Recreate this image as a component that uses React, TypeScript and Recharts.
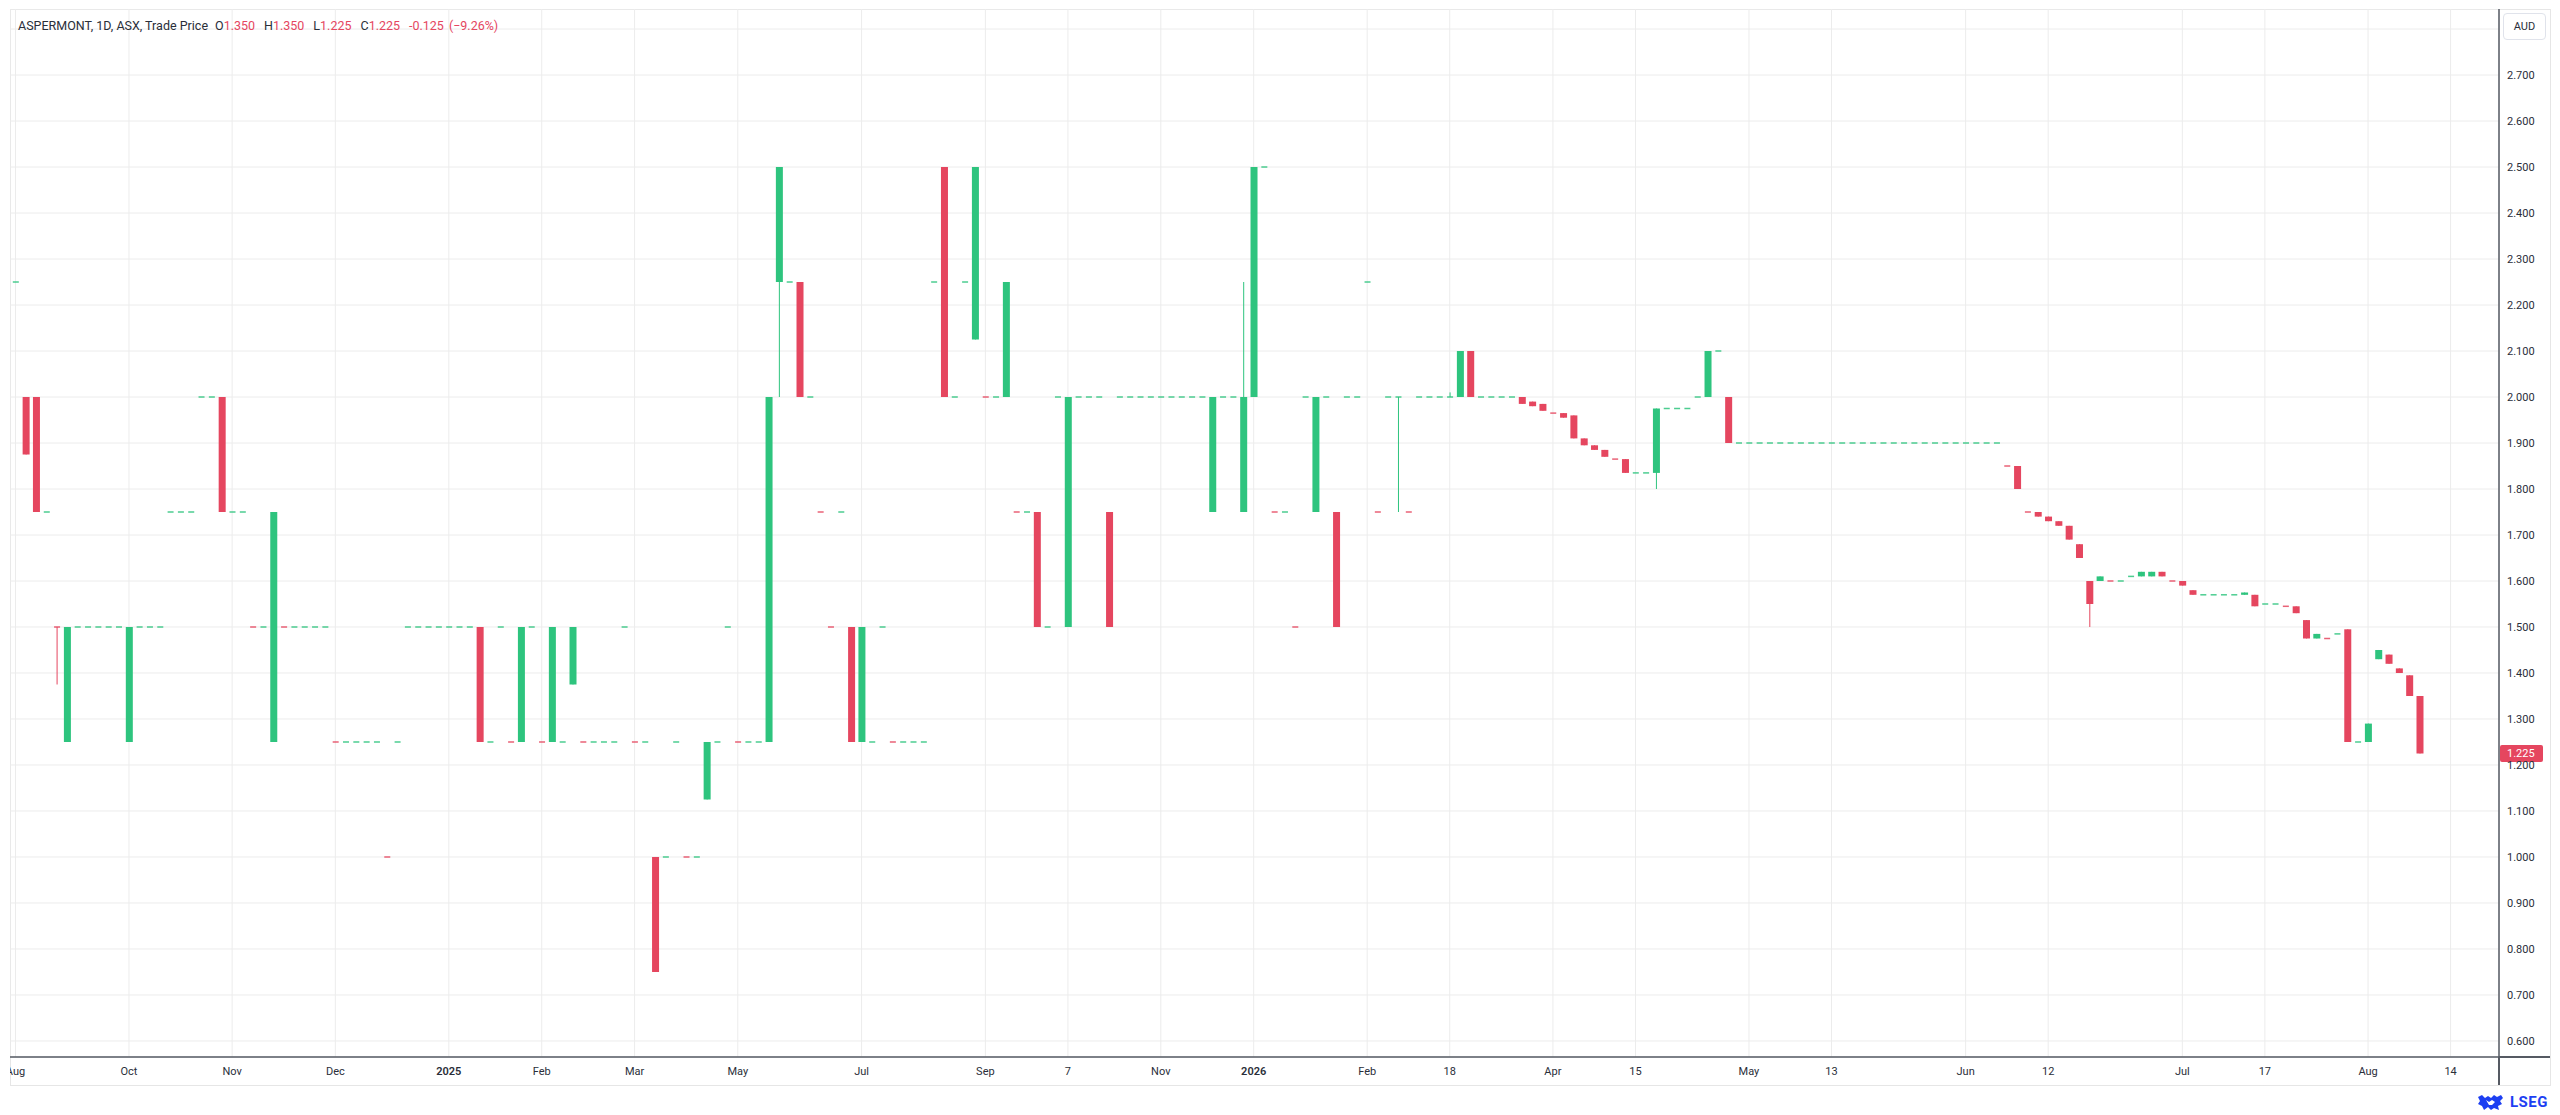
import React from 'react'
import { ComposedChart, Bar, XAxis, YAxis, CartesianGrid, ReferenceLine } from 'recharts'

// one entry per trading slot (index = slot on the time axis)
const opens = [
  2.25, 2.0, 2.0, 1.75, 1.5, 1.25, 1.5, 1.5, 1.5, 1.5, // 0
  1.5, 1.25, 1.5, 1.5, 1.5, 1.75, 1.75, 1.75, 2.0, 2.0, // 10
  2.0, 1.75, 1.75, 1.5, 1.5, 1.25, 1.5, 1.5, 1.5, 1.5, // 20
  1.5, 1.25, 1.25, 1.25, 1.25, 1.25, 1.0, 1.25, 1.5, 1.5, // 30
  1.5, 1.5, 1.5, 1.5, 1.5, 1.5, 1.25, 1.5, 1.25, 1.25, // 40
  1.5, 1.25, 1.25, 1.25, 1.375, 1.25, 1.25, 1.25, 1.25, 1.5, // 50
  1.25, 1.25, 1.0, 1.0, 1.25, 1.0, 1.0, 1.125, 1.25, 1.5, // 60
  1.25, 1.25, 1.25, 1.25, 2.25, 2.25, 2.25, 2.0, 1.75, 1.5, // 70
  1.75, 1.5, 1.25, 1.25, 1.5, 1.25, 1.25, 1.25, 1.25, 2.25, // 80
  2.5, 2.0, 2.25, 2.125, 2.0, 2.0, 2.0, 1.75, 1.75, 1.75, // 90
  1.5, 2.0, 1.5, 2.0, 2.0, 2.0, 1.75, 2.0, 2.0, 2.0, // 100
  2.0, 2.0, 2.0, 2.0, 2.0, 2.0, 1.75, 2.0, 2.0, 1.75, // 110
  2.0, 2.5, 1.75, 1.75, 1.5, 2.0, 1.75, 2.0, 1.75, 2.0, // 120
  2.0, 2.25, 1.75, 2.0, 2.0, 1.75, 2.0, 2.0, 2.0, 2.0, // 130
  2.0, 2.1, 2.0, 2.0, 2.0, 2.0, 2.0, 1.99, 1.985, 1.965, // 140
  1.965, 1.96, 1.91, 1.895, 1.885, 1.865, 1.865, 1.835, 1.835, 1.835, // 150
  1.975, 1.975, 1.975, 2.0, 2.0, 2.1, 2.0, 1.9, 1.9, 1.9, // 160
  1.9, 1.9, 1.9, 1.9, 1.9, 1.9, 1.9, 1.9, 1.9, 1.9, // 170
  1.9, 1.9, 1.9, 1.9, 1.9, 1.9, 1.9, 1.9, 1.9, 1.9, // 180
  1.9, 1.9, 1.9, 1.85, 1.85, 1.75, 1.75, 1.74, 1.73, 1.72, // 190
  1.68, 1.6, 1.6, 1.6, 1.6, 1.61, 1.61, 1.61, 1.62, 1.6, // 200
  1.6, 1.58, 1.57, 1.57, 1.57, 1.57, 1.57, 1.57, 1.55, 1.55, // 210
  1.545, 1.545, 1.515, 1.475, 1.475, 1.485, 1.495, 1.25, 1.25, 1.43, // 220
  1.44, 1.41, 1.395, 1.35, // 230
]

const closes = [
  2.25, 1.875, 1.75, 1.75, 1.5, 1.5, 1.5, 1.5, 1.5, 1.5, // 0
  1.5, 1.5, 1.5, 1.5, 1.5, 1.75, 1.75, 1.75, 2.0, 2.0, // 10
  1.75, 1.75, 1.75, 1.5, 1.5, 1.75, 1.5, 1.5, 1.5, 1.5, // 20
  1.5, 1.25, 1.25, 1.25, 1.25, 1.25, 1.0, 1.25, 1.5, 1.5, // 30
  1.5, 1.5, 1.5, 1.5, 1.5, 1.25, 1.25, 1.5, 1.25, 1.5, // 40
  1.5, 1.25, 1.5, 1.25, 1.5, 1.25, 1.25, 1.25, 1.25, 1.5, // 50
  1.25, 1.25, 0.75, 1.0, 1.25, 1.0, 1.0, 1.25, 1.25, 1.5, // 60
  1.25, 1.25, 1.25, 2.0, 2.5, 2.25, 2.0, 2.0, 1.75, 1.5, // 70
  1.75, 1.25, 1.5, 1.25, 1.5, 1.25, 1.25, 1.25, 1.25, 2.25, // 80
  2.0, 2.0, 2.25, 2.5, 2.0, 2.0, 2.25, 1.75, 1.75, 1.5, // 90
  1.5, 2.0, 2.0, 2.0, 2.0, 2.0, 1.5, 2.0, 2.0, 2.0, // 100
  2.0, 2.0, 2.0, 2.0, 2.0, 2.0, 2.0, 2.0, 2.0, 2.0, // 110
  2.5, 2.5, 1.75, 1.75, 1.5, 2.0, 2.0, 2.0, 1.5, 2.0, // 120
  2.0, 2.25, 1.75, 2.0, 2.0, 1.75, 2.0, 2.0, 2.0, 2.0, // 130
  2.1, 2.0, 2.0, 2.0, 2.0, 2.0, 1.985, 1.98, 1.97, 1.965, // 140
  1.955, 1.91, 1.895, 1.885, 1.87, 1.865, 1.835, 1.835, 1.835, 1.975, // 150
  1.975, 1.975, 1.975, 2.0, 2.1, 2.1, 1.9, 1.9, 1.9, 1.9, // 160
  1.9, 1.9, 1.9, 1.9, 1.9, 1.9, 1.9, 1.9, 1.9, 1.9, // 170
  1.9, 1.9, 1.9, 1.9, 1.9, 1.9, 1.9, 1.9, 1.9, 1.9, // 180
  1.9, 1.9, 1.9, 1.85, 1.8, 1.75, 1.74, 1.73, 1.72, 1.69, // 190
  1.65, 1.55, 1.61, 1.6, 1.6, 1.61, 1.62, 1.62, 1.61, 1.6, // 200
  1.59, 1.57, 1.57, 1.57, 1.57, 1.57, 1.575, 1.545, 1.55, 1.55, // 210
  1.545, 1.53, 1.475, 1.485, 1.475, 1.485, 1.25, 1.25, 1.29, 1.45, // 220
  1.42, 1.4, 1.35, 1.225, // 230
]

// the few sessions whose wick reaches past the body
const wickHighSlots = [119, 139]
const wickHighs = [2.25, 2.01]
const wickLowSlots = [4, 74, 134, 159, 201]
const wickLows = [1.375, 2.0, 1.75, 1.8, 1.5]

// unchanged sessions drawn in the down colour
const redDojiSlots = [4, 23, 26, 31, 36, 48, 51, 55, 60, 65, 70, 78, 79, 85, 94, 97, 122, 124, 132, 135, 149, 155, 193, 195, 203, 209, 220, 224]

const tickSlots = [0, 11, 21, 31, 42, 51, 60, 70, 82, 94, 102, 111, 120, 131, 139, 149, 157, 168, 176, 189, 197, 210, 218, 228, 236]
const tickLabels = ['Aug', 'Oct', 'Nov', 'Dec', '2025', 'Feb', 'Mar', 'May', 'Jul', 'Sep', '7', 'Nov', '2026', 'Feb', '18', 'Apr', '15', 'May', '13', 'Jun', '12', 'Jul', '17', 'Aug', '14']

const priceTicks = [0.6, 0.7, 0.8, 0.9, 1.0, 1.1, 1.2, 1.3, 1.4, 1.5, 1.6, 1.7, 1.8, 1.9, 2.0, 2.1, 2.2, 2.3, 2.4, 2.5, 2.6, 2.7, 2.8]

const UP = '#2ec47e'
const DOWN = '#e5465f'
const TEXT = '#2a2e39'
const AXIS = '#555a63'
const GRID = '#ececec'

const X_DOMAIN = [-0.53, 240.69]
const Y_DOMAIN = [0.5652, 2.8435]

const candles = opens.map((o, i) => {
  const c = closes[i]
  const hi = wickHighSlots.indexOf(i)
  const lo = wickLowSlots.indexOf(i)
  const h = hi >= 0 ? wickHighs[hi] : Math.max(o, c)
  const l = lo >= 0 ? wickLows[lo] : Math.min(o, c)
  const up = c > o || (c === o && !redDojiSlots.includes(i))
  return { slot: i, o, c, h, l, up }
})

const last = candles[candles.length - 1]
const prev = candles[candles.length - 2]
const change = last.c - prev.c
const changePct = (change / prev.c) * 100

function Candle(props: any) {
  const { x, y, width, height, payload } = props
  if (x == null || y == null || !payload) return null
  const { o, c, h, l, up } = payload
  const color = up ? UP : DOWN
  const top = height < 0 ? y + height : y
  const span = Math.abs(height || 0)
  const toY = (v: number) => (h === l ? top : top + ((h - v) / (h - l)) * span)
  const cx = x + width / 2
  const y1 = toY(Math.max(o, c))
  const y2 = toY(Math.min(o, c))
  return (
    <g>
      {span > 0 && <line x1={cx} x2={cx} y1={top} y2={top + span} stroke={color} strokeWidth={1} />}
      {o === c
        ? <rect x={x + 0.5} y={y1 - 0.75} width={width - 1} height={1.5} fill={color} fillOpacity={0.85} />
        : <rect x={x} y={y1} width={width} height={Math.max(y2 - y1, 1)} fill={color} />}
    </g>
  )
}

function XTick({ x, y, payload }: any) {
  const label = tickLabels[tickSlots.indexOf(payload.value)] ?? ''
  const isYear = /^\d{4}$/.test(label)
  return (
    <text x={x} y={y} dy="0.71em" textAnchor="middle" fontSize={11} fill={TEXT} fontWeight={isYear ? 600 : 400}>
      {label}
    </text>
  )
}

function PriceTag(props: any) {
  const vb = props.viewBox
  if (!vb) return null
  const x = vb.x + vb.width
  return (
    <g>
      <rect x={x + 1} y={vb.y - 8.5} width={43} height={17} rx={2} fill={DOWN} />
      <text x={x + 8} y={vb.y} dy="0.355em" fontSize={11} fill="#fff">{last.c.toFixed(3)}</text>
    </g>
  )
}

function Emblem() {
  return (
    <svg width={27} height={17} viewBox="0 0 27 17">
      <path d="M1 3 L5 1 L8 4 L11 2 L14 4 L17 1 L20 3 L24 1 L26 4 L23 7 L25 10 L21 12 L22 16 L17 14 L14 16 L11 13 L7 16 L5 12 L1 10 L3 7 Z" fill="#1d3ff2" />
      <path d="M9 6 L12 8 L15 6 L18 8 L15 11 L12 11 Z" fill="#fff" />
    </svg>
  )
}

export default function App() {
  const red = { color: DOWN }
  return (
    <div style={{ position: 'absolute', left: 0, top: 0, width: 2560, height: 1115, background: '#fff', overflow: 'hidden', fontFamily: 'Roboto, "Noto Sans", sans-serif' }}>
      <div style={{ position: 'absolute', left: 10, top: 9, width: 2541, height: 1077, border: '1px solid #e6e6e6', boxSizing: 'border-box' }} />
      <div style={{ position: 'absolute', left: 10, top: 9 }}>
        <ComposedChart width={2540} height={1076} data={candles} margin={{ top: 0, right: 0, bottom: 0, left: 0 }}>
          <CartesianGrid stroke={GRID} />
          <XAxis
            dataKey="slot"
            type="number"
            domain={X_DOMAIN}
            allowDataOverflow
            ticks={tickSlots}
            interval={0}
            tick={<XTick />}
            tickLine={false}
            tickSize={0}
            tickMargin={10}
            axisLine={{ stroke: AXIS, strokeWidth: 1.5 }}
            height={28}
          />
          <YAxis
            orientation="right"
            type="number"
            domain={Y_DOMAIN}
            allowDataOverflow
            ticks={priceTicks}
            interval={0}
            tickFormatter={(v: number) => (v > 2.75 ? '' : v.toFixed(3))}
            tick={{ fontSize: 11, fill: TEXT }}
            tickLine={false}
            tickSize={0}
            tickMargin={8}
            axisLine={{ stroke: AXIS, strokeWidth: 1.5 }}
            width={51}
          />
          <Bar dataKey={(d: any) => [d.l, d.h]} barSize={7} shape={(p: any) => <Candle {...p} />} isAnimationActive={false} />
          <ReferenceLine y={last.c} stroke="none" label={(p: any) => <PriceTag {...p} />} />
        </ComposedChart>
      </div>
      <div style={{ position: 'absolute', left: 2498, top: 1057, width: 1.5, height: 28, background: AXIS }} />
      <div style={{ position: 'absolute', left: 2499, top: 1056.25, width: 51, height: 1.5, background: AXIS }} />
      <div style={{ position: 'absolute', left: 18, top: 18, fontSize: 12.5, lineHeight: '16px', color: TEXT, whiteSpace: 'nowrap' }}>
        <span>ASPERMONT, 1D, ASX, Trade Price</span>
        <span style={{ marginLeft: 7 }}>O<span style={red}>{last.o.toFixed(3)}</span></span>
        <span style={{ marginLeft: 9 }}>H<span style={red}>{last.h.toFixed(3)}</span></span>
        <span style={{ marginLeft: 9 }}>L<span style={red}>{last.l.toFixed(3)}</span></span>
        <span style={{ marginLeft: 9 }}>C<span style={red}>{last.c.toFixed(3)}</span></span>
        <span style={{ ...red, marginLeft: 9 }}>{change.toFixed(3)}</span>
        <span style={{ ...red, marginLeft: 5 }}>({'\u2212'}{Math.abs(changePct).toFixed(2)}%)</span>
      </div>
      <div style={{ position: 'absolute', left: 2503, top: 13, width: 43, height: 27, border: '1px solid #e0e3eb', borderRadius: 4, boxSizing: 'border-box', fontSize: 11, color: TEXT, display: 'flex', alignItems: 'center', justifyContent: 'center', background: '#fff' }}>
        AUD
      </div>
      <div style={{ position: 'absolute', left: 2477, top: 1094, display: 'flex', alignItems: 'center', gap: 6 }}>
        <Emblem />
        <span style={{ color: '#1d3ff2', fontWeight: 700, fontSize: 15, letterSpacing: 0.5, lineHeight: '17px' }}>LSEG</span>
      </div>
    </div>
  )
}
